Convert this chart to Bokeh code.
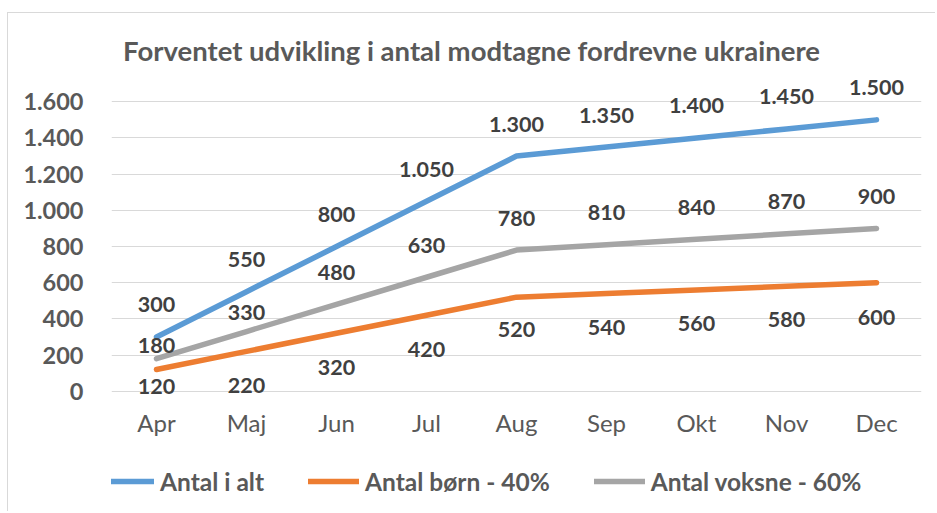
from bokeh.plotting import figure
from bokeh.models import ColumnDataSource, Range1d, FixedTicker, Legend, LegendItem, Label
from bokeh.embed import file_html
from bokeh.resources import INLINE
from bokeh.core.properties import value

# ---- data ----
months = ["Apr", "Maj", "Jun", "Jul", "Aug", "Sep", "Okt", "Nov", "Dec"]
total = [300, 550, 800, 1050, 1300, 1350, 1400, 1450, 1500]
children = [120, 220, 320, 420, 520, 540, 560, 580, 600]
adults = [180, 330, 480, 630, 780, 810, 840, 870, 900]
series_names = ["Antal i alt", "Antal børn - 40%", "Antal voksne - 60%"]
y_ticks = [0, 200, 400, 600, 800, 1000, 1200, 1400, 1600]
title_text = "Forventet udvikling i antal modtagne fordrevne ukrainere"

# ---- style ----
colors = ["#5B9BD5", "#ED7D31", "#A5A5A5"]
label_offsets = [
    [-32] * 9,
    [17, 34, 34, 34, 32, 34, 34, 33, 35],
    [-13, -19, -32, -32, -32, -32, -32, -32, -32],
]
FONT = "Lato"
GREY = "#595959"
DARK = "#404040"


def fmt(v):
    return f"{v:,}".replace(",", ".")


xs = list(range(len(months)))

p = figure(
    width=928, height=499,
    x_range=Range1d(-0.5, len(months) - 0.5),
    y_range=Range1d(-670.6, 2088.1),
    output_backend="svg", toolbar_location=None,
    min_border_left=103, min_border_right=15,
    min_border_top=0, min_border_bottom=0,
)
p.styles = {"border-top": "1px solid #d9d9d9", "border-left": "1px solid #d9d9d9",
            "position": "relative", "top": "12px", "left": "7px"}
p.outline_line_color = None
p.background_fill_color = "white"
p.border_fill_color = "white"

# grid
p.xgrid.grid_line_color = None
p.ygrid.ticker = FixedTicker(ticks=y_ticks)
p.ygrid.grid_line_color = "#d9d9d9"
p.ygrid.grid_line_width = 1

# axes
p.xaxis.ticker = FixedTicker(ticks=xs)
p.xaxis.major_label_overrides = {i: m for i, m in zip(xs, months)}
p.xaxis.fixed_location = y_ticks[0]
p.yaxis.ticker = FixedTicker(ticks=y_ticks)
p.yaxis.major_label_overrides = {t: fmt(t) for t in y_ticks}
for ax in (p.xaxis, p.yaxis):
    ax.axis_line_color = None
    ax.major_tick_line_color = None
    ax.minor_tick_line_color = None
    ax.major_label_text_font = FONT
    ax.major_label_text_color = GREY
p.xaxis.major_label_text_font_size = "24px"
p.yaxis.major_label_text_font_size = "23.5px"
p.xaxis.major_label_standoff = 11
p.yaxis.major_label_standoff = 22
p.yaxis.major_label_text_font_style = "bold"

series = [total, children, adults]
items = []
for name, vals, col, offs in zip(series_names, series, colors, label_offsets):
    src = ColumnDataSource(dict(x=xs, y=vals, label=[fmt(v) for v in vals], off=offs))
    r = p.line("x", "y", source=src, line_width=5.5, line_color=col, line_cap="round", line_join="round")
    items.append(LegendItem(label=name, renderers=[r]))
    p.text("x", "y", text="label", y_offset="off", source=src,
           text_align="center", text_baseline="middle",
           text_font=value(FONT), text_font_style="bold",
           text_font_size="21.5px", text_color=DARK)

title = Label(x=(len(months) - 1) / 2 - 0.5, y=1883.5, text=title_text,
              text_align="center", text_baseline="middle",
              text_font=FONT, text_font_style="bold", text_font_size="27.5px",
              text_color=GREY)
p.add_layout(title)

legend = Legend(items=items, orientation="horizontal", location=(-8, 16),
                glyph_width=51, glyph_height=30, label_height=30, label_standoff=6, spacing=44,
                padding=0, margin=0, border_line_color=None, background_fill_alpha=0,
                label_text_font=FONT, label_text_font_style="bold",
                label_text_font_size="24.5px", label_text_color=GREY)
legend.level = "overlay"
p.add_layout(legend)

open("out.html", "w").write(file_html(p, INLINE))
